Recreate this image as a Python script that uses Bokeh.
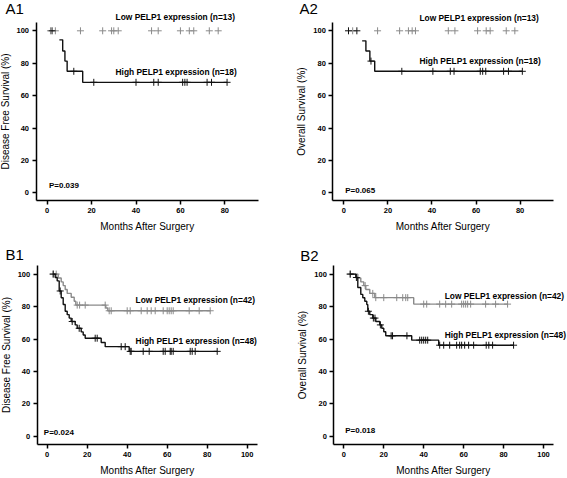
from bokeh.plotting import figure
from bokeh.layouts import gridplot
from bokeh.models import Label, Range1d, FixedTicker
from bokeh.embed import file_html
from bokeh.resources import INLINE

BLACK = "#111111"
GRAY = "#8a8a8a"
FONT = "Liberation Sans"

# ---------------- data ----------------
x_ticks_a = [0, 20, 40, 60, 80]
x_ticks_b = [0, 20, 40, 60, 80, 100]
y_ticks = [0, 20, 40, 60, 80, 100]

# A1 : disease free survival, small cohort
a1_low_t, a1_low_s, a1_low_end = [], [], None          # no events, censored only
a1_low_cens = [1.5, 3.7, 15, 25, 29, 30, 32, 47, 50, 60, 64, 66, 73, 77]
a1_high_t = [5.5, 7, 8, 9, 16]
a1_high_s = [94.4, 87.5, 81.3, 75.0, 68.2]
a1_high_end = 81
a1_high_cens = [2.2, 12, 21, 40, 48, 50, 61, 62, 63, 72, 74, 81]

# A2 : overall survival, small cohort
a2_low_t, a2_low_s, a2_low_end = [], [], None
a2_low_cens = [4, 15.3, 25.3, 29.3, 31, 32.5, 47.4, 50.4, 60.7, 64.6, 66.4, 73.7, 77.6]
a2_high_t = [8.3, 10, 11.8, 14]
a2_high_s = [93.8, 87.5, 81.3, 75.0]
a2_high_end = 81
a2_high_cens = [2.1, 5.9, 12.3, 26.3, 40.4, 48.3, 50, 61.9, 63, 64.4, 72.5, 74.7, 81]

# B1 : disease free survival, large cohort
b1_low_t = [2.5, 5.5, 7, 8, 9, 10, 12, 13.5, 14.3, 29.3, 30.3]
b1_low_s = [100, 97.6, 95.2, 92.9, 90.5, 88.1, 85.7, 83.3, 80.9, 79.1, 77.4]
b1_low_end = 81.5
b1_low_cens = [3, 4.5, 15, 16.2, 19, 29, 31, 32, 40, 41.5, 47, 50, 52, 54,
               58, 60, 61, 62, 63, 71, 76, 81.5]
b1_high_t = [3, 4, 5, 6, 7, 8, 9, 10, 11, 12, 14, 15, 17, 18, 19, 27, 29, 41]
b1_high_s = [100, 97.9, 95.8, 89.6, 85.4, 81.3, 77.1, 75.0, 72.9, 70.8, 68.7,
             66.6, 64.4, 62.5, 60.5, 57.9, 55.3, 52.4]
b1_high_end = 85
b1_high_cens = [3, 6.5, 12.5, 16, 24, 25, 37, 39, 41.5, 42, 48, 51, 58, 59,
                61.5, 62, 63, 71.5, 72.5, 74, 85]

# B2 : overall survival, large cohort
b2_low_t = [2.3, 7, 8.5, 10, 11, 13, 15.5, 35]
b2_low_s = [100, 97.6, 95.2, 92.9, 90.5, 88.1, 85.5, 81.5]
b2_low_end = 82
b2_low_cens = [3.2, 10.7, 14.5, 16, 20, 26.5, 29.5, 31, 32, 40, 41.5, 48, 51,
               54, 59, 60, 61, 62, 63.5, 71, 76, 82]
b2_high_t = [3, 6, 7, 8.5, 9.5, 10.5, 11.5, 12, 13, 14.5, 16, 18, 19, 20, 21, 34, 47.5]
b2_high_s = [100, 97.9, 91.7, 87.5, 85.4, 83.3, 81.2, 77.1, 75.0, 72.9, 70.8,
             68.7, 66.6, 64.5, 62.0, 59.3, 56.2]
b2_high_end = 85
b2_high_cens = [3.2, 6.3, 12.3, 14.8, 15.6, 18.3, 23.7, 24.4, 31.6, 38, 39, 40,
                41, 42, 48, 50, 53, 56.5, 58, 59, 60.5, 62.5, 65, 71.3, 72.6, 74.5, 85]

p_values = ["P=0.039", "P=0.065", "P=0.024", "P=0.018"]
low_names = ["Low PELP1 expression (n=13)", "Low PELP1 expression (n=13)",
             "Low PELP1 expression (n=42)", "Low PELP1 expression (n=42)"]
high_names = ["High PELP1 expression (n=18)", "High PELP1 expression (n=18)",
              "High PELP1 expression (n=48)", "High PELP1 expression (n=48)"]
panel_names = ["A1", "A2", "B1", "B2"]
y_titles = ["Disease Free Survival (%)", "Overall Survival (%)",
            "Disease Free Survival (%)", "Overall Survival (%)"]
x_title = "Months After Surgery"


def step_xy(T, S, end):
    xs, ys = [], []
    for i in range(len(T)):
        x1 = T[i + 1] if i + 1 < len(T) else end
        xs += [T[i], x1]
        ys += [S[i], S[i]]
    return xs, ys


def level_at(t, T, S):
    lv = 100.0
    for ti, si in zip(T, S):
        if t >= ti:
            lv = si
    return lv


def make_panel(idx, xr, yr, xmax_axis, xt, low, high, label_pos, pval_pos,
               title_pos, width, height):
    p = figure(width=width, height=height,
               x_range=Range1d(*xr), y_range=Range1d(*yr),
               output_backend="svg", toolbar_location=None,
               min_border_left=0, min_border_right=0,
               min_border_top=0, min_border_bottom=0)
    p.outline_line_color = None
    p.xgrid.visible = False
    p.ygrid.visible = False
    p.xaxis.ticker = FixedTicker(ticks=xt)
    p.yaxis.ticker = FixedTicker(ticks=y_ticks)
    p.xaxis.axis_label = x_title
    p.yaxis.axis_label = y_titles[idx]
    p.xaxis.fixed_location = -5
    p.yaxis.fixed_location = -5
    p.xaxis.bounds = (-5, xmax_axis)
    p.yaxis.bounds = (-5, 105)
    for ax in (p.xaxis[0], p.yaxis[0]):
        ax.axis_line_width = 1.5
        ax.axis_line_color = "black"
        ax.major_tick_line_width = 1.5
        ax.major_tick_line_color = "black"
        ax.major_tick_out = 4
        ax.major_tick_in = 0
        ax.minor_tick_line_color = None
        ax.major_label_text_font = FONT
        ax.major_label_text_font_style = "bold"
        ax.major_label_text_font_size = "7.5px"
        ax.major_label_text_color = "black"
        ax.major_label_standoff = 3
        ax.axis_label_text_font = FONT
        ax.axis_label_text_font_style = "normal"
        ax.axis_label_text_font_size = "10px"
        ax.axis_label_text_color = "black"
    p.xaxis.axis_label_standoff = 5
    p.yaxis.axis_label_standoff = 3

    for (T, S, end, cens), col in ((low, GRAY), (high, BLACK)):
        if T:
            xs, ys = step_xy(T, S, end)
            p.line(xs, ys, line_color=col, line_width=1.4)
        cy = [level_at(t, T, S) for t in cens]
        p.scatter(cens, cy, marker="cross", size=7, line_color=col, line_width=1)

    (lx, ly), (hx, hy) = label_pos
    for x, y, txt in ((lx, ly, low_names[idx]), (hx, hy, high_names[idx])):
        p.add_layout(Label(x=x, y=y, text=txt, text_font=FONT,
                           text_font_size="8.4px", text_font_style="bold",
                           text_baseline="middle", text_align="left",
                           text_color="black"))
    p.add_layout(Label(x=pval_pos[0], y=pval_pos[1], text=p_values[idx],
                       text_font=FONT, text_font_size="8px",
                       text_font_style="bold", text_baseline="middle",
                       text_align="left", text_color="black"))
    p.add_layout(Label(x=title_pos[0], y=title_pos[1], text=panel_names[idx],
                       text_font=FONT, text_font_size="15px",
                       text_font_style="normal", text_baseline="middle",
                       text_align="left", text_color="black"))
    return p


pa1 = make_panel(0, (-21.0, 106.4), (-28.8, 118.7), 95, x_ticks_a,
                 (a1_low_t, a1_low_s, a1_low_end, a1_low_cens),
                 (a1_high_t, a1_high_s, a1_high_end, a1_high_cens),
                 ((30.8, 108.6), (30.8, 74.7)), (0.8, 4.3), (-18.8, 113.6),
                 283, 239)
pa2 = make_panel(1, (-27.4, 101.5), (-28.8, 118.7), 95, x_ticks_a,
                 (a2_low_t, a2_low_s, a2_low_end, a2_low_cens),
                 (a2_high_t, a2_high_s, a2_high_end, a2_high_cens),
                 ((34.3, 108.2), (34.3, 81.5)), (0.6, 1.6), (-20.1, 113.6),
                 284, 239)
pb1 = make_panel(2, (-23.35, 118.15), (-25.9, 121.3), 105, x_ticks_b,
                 (b1_low_t, b1_low_s, b1_low_end, b1_low_cens),
                 (b1_high_t, b1_high_s, b1_high_end, b1_high_cens),
                 ((44.2, 83.8), (44.2, 58.5)), (-1.7, 2.5), (-20.85, 112.1),
                 283, 239)
pb2 = make_panel(3, (-30.2, 112.0), (-25.9, 121.3), 105, x_ticks_b,
                 (b2_low_t, b2_low_s, b2_low_end, b2_low_cens),
                 (b2_high_t, b2_high_s, b2_high_end, b2_high_cens),
                 ((50.5, 86.8), (50.5, 62.4)), (0.7, 3.5), (-21.8, 111.6),
                 284, 239)

grid = gridplot([[pa1, pa2], [pb1, pb2]], toolbar_location=None)

open("out.html", "w").write(file_html(grid, INLINE))
